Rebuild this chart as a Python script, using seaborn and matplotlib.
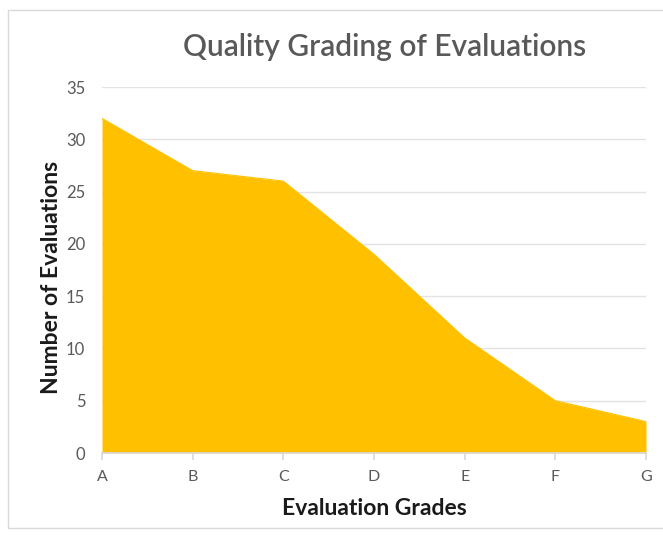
import matplotlib
matplotlib.use("Agg")
import matplotlib.pyplot as plt
import seaborn as sns
import pandas as pd
from matplotlib.patches import Rectangle

grades = ["A", "B", "C", "D", "E", "F", "G"]
counts = [32, 27, 26, 19, 11, 5, 3]
yticks = [0, 5, 10, 15, 20, 25, 30, 35]

sns.set_theme(style="white")
plt.rcParams['font.family'] = ['Lato', 'DejaVu Sans']

W, H = 663, 541
fig = plt.figure(figsize=(W / 100, H / 100), dpi=100)
ax = fig.add_axes([102 / W, 1 - 453 / H, (646 - 102) / W, (453 - 87) / H])

# outer chart border
fig.patches.append(Rectangle((8 / W, 1 - 528 / H), (W + 5 - 8) / W, (528 - 10) / H,
                             transform=fig.transFigure, fill=False,
                             edgecolor="#d9d9d9", linewidth=1.0))

xs = list(range(len(grades)))
sns.lineplot(x=xs, y=counts, ax=ax, color="#FFC000", linewidth=0.8)
ax.fill_between(xs, counts, 0, color="#FFC000", linewidth=0, zorder=2)

ax.set_xlim(0, len(grades) - 1)
ax.set_ylim(0, 35)
ax.set_yticks(yticks)
ax.set_xticks(xs)
ax.set_xticklabels(grades)
ax.yaxis.grid(True, color="#e3e3e3", linewidth=1.0)
ax.set_axisbelow(True)
for s in ["top", "right", "left"]:
    ax.spines[s].set_visible(False)
ax.spines["bottom"].set_color("#d9d9d9")
ax.tick_params(axis="x", which="both", bottom=True, length=5, color="#d9d9d9",
               labelsize=11.5, labelcolor="#595959", pad=7)
ax.tick_params(axis="y", left=False, length=0, labelsize=12, labelcolor="#595959", pad=12)

ax.set_xlabel("Evaluation Grades", fontsize=16.5, fontweight="bold", color="#1a1a1a", labelpad=10)
ax.set_ylabel("Number of Evaluations", fontsize=16.5, fontweight="bold", color="#1a1a1a", labelpad=0)
ax.yaxis.set_label_coords((62 - 102) / (646 - 102), 0.481)
fig.text(385 / W, 1 - 47 / H, "Quality Grading of Evaluations", ha="center", va="center",
         fontsize=21.5, fontweight="semibold", color="#595959")

fig.savefig("out.png", dpi=100)
